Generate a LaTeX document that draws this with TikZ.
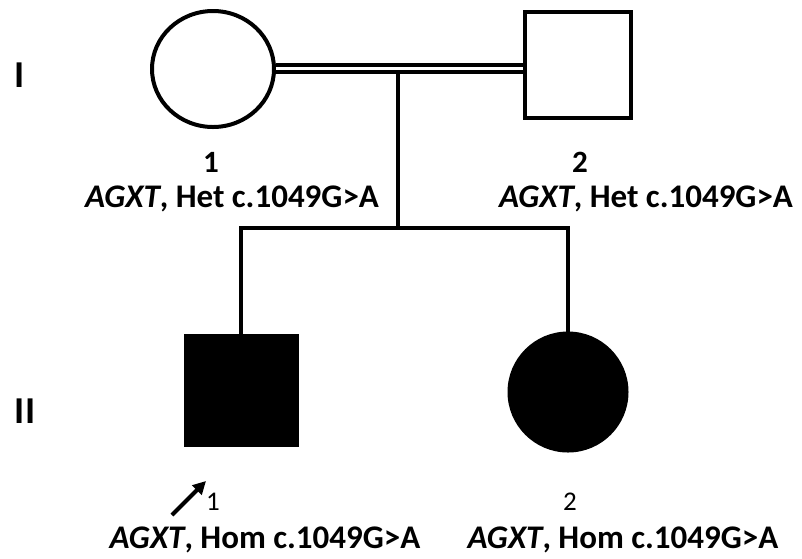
\documentclass[tikz,border=0pt]{standalone}
\usepackage{fontspec}
\setmainfont{Carlito}
\usetikzlibrary{arrows.meta,shapes.geometric}
\begin{document}
\begin{tikzpicture}[x=1pt,y=-1pt,
  line width=4pt,
  person/.style={draw=black,line width=4pt,inner sep=0pt},
  female/.style={person,ellipse},
  male/.style={person,rectangle},
  lbl/.style={font=\fontsize{33}{36}\selectfont\bfseries,inner sep=0pt,anchor=base},
  num/.style={font=\fontsize{31}{34}\selectfont\bfseries,inner sep=0pt,anchor=base},
  subnum/.style={font=\fontsize{27}{30}\selectfont,inner sep=0pt,anchor=base},
  gen/.style={font=\fontsize{38}{40}\selectfont\bfseries,inner sep=0pt}]
\useasboundingbox (0,0) rectangle (802,558);
% generation I
\node[female,minimum width=122pt,minimum height=116pt] (f1) at (213,69) {};
\node[male,minimum width=106pt,minimum height=106pt] (m1) at (578,65) {};
\draw[double=white,double distance=3pt,line width=4pt] (f1.east) ++(0,-0.5) coordinate (ma) -- (ma -| m1.west);
\coordinate (drop) at (398,72);
\coordinate (sib) at (398,228);
\draw (drop) -- (sib);
% generation II
\node[male,fill=black,minimum width=111pt,minimum height=109pt] (c1) at (241,390) {};
\node[female,fill=black,minimum width=117pt,minimum height=117pt] (c2) at (568,392) {};
\draw (c1.north) |- (sib) -| (c2.north);
% labels
\node[gen] (g1) at (20,75) {I};
\node[gen] (g2) at (25,411) {II};
\node[num] (n1) at (211,172) {1};
\node[lbl] (t1) at (232,207) {\textit{AGXT}, Het c.1049G>A};
\node[num] (n2) at (580,172) {2};
\node[lbl] (t2) at (646,207) {\textit{AGXT}, Het c.1049G>A};
\node[subnum] (n3) at (213,510) {1};
\node[subnum] (n4) at (570,510) {2};
\node[lbl] (t3) at (265,548) {\textit{AGXT}, Hom c.1049G>A};
\node[lbl] (t4) at (623,548) {\textit{AGXT}, Hom c.1049G>A};
% proband arrow
\coordinate (pa) at (172,515);
\coordinate (pb) at (206,481);
\draw[line width=4pt,-{Triangle[length=13pt,width=13pt]}] (pa) -- (pb);
\end{tikzpicture}
\end{document}
